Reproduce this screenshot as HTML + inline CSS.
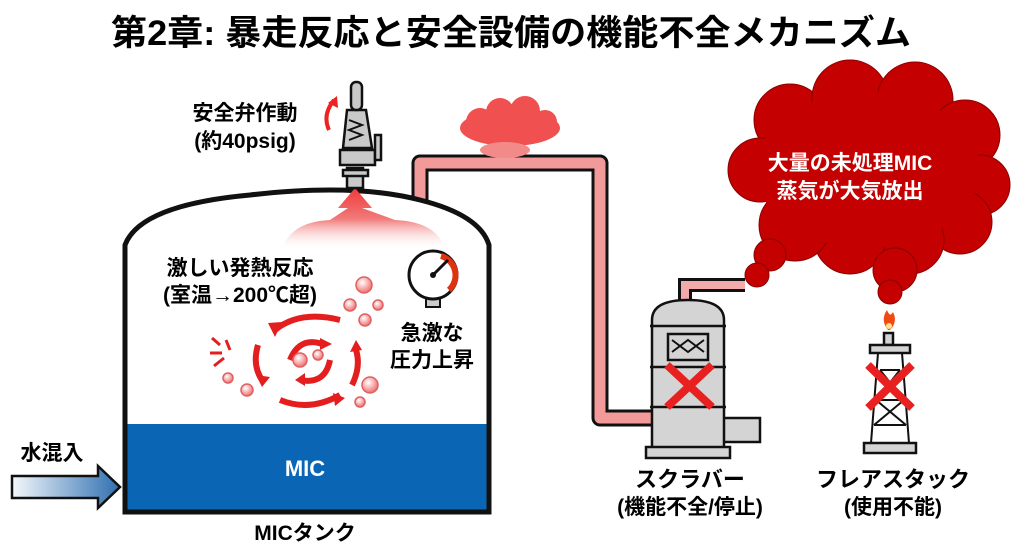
<!DOCTYPE html>
<html><head><meta charset="utf-8"><style>
html,body{margin:0;padding:0;background:#fff;}
svg{display:block;}
text{font-family:"Liberation Sans","Noto Sans CJK JP",sans-serif;font-weight:bold;}
</style></head><body>
<svg width="1024" height="559" viewBox="0 0 1024 559" xmlns="http://www.w3.org/2000/svg">
<defs>
<linearGradient id="wa" x1="0" x2="1"><stop offset="0" stop-color="#f4f8fc"/><stop offset="1" stop-color="#2f6fb0"/></linearGradient>
<linearGradient id="plume" x1="0" y1="0" x2="0" y2="1"><stop offset="0" stop-color="#ee3a3a"/><stop offset="0.5" stop-color="#f27a7a"/><stop offset="1" stop-color="#fff" stop-opacity="0"/></linearGradient>
<radialGradient id="bub" cx="0.4" cy="0.35" r="0.6"><stop offset="0" stop-color="#fff"/><stop offset="1" stop-color="#f07a7a"/></radialGradient>
</defs>
<rect width="1024" height="559" fill="#fff"/>
<text x="511" y="45" font-size="35" text-anchor="middle" textLength="800" lengthAdjust="spacingAndGlyphs">第2章: 暴走反応と安全設備の機能不全メカニズム</text>

<!-- pipe from tank -->
<path d="M420 205 V163 H600 V418 H655" fill="none" stroke="#111" stroke-width="17" stroke-linejoin="round"/>
<path d="M420 205 V163 H600 V418 H655" fill="none" stroke="#f29a9a" stroke-width="11" stroke-linejoin="round"/>
<!-- small cloud -->
<g fill="#f05050">
<ellipse cx="510" cy="128" rx="50" ry="18"/><circle cx="480" cy="122" r="14"/><circle cx="500" cy="112" r="14"/><circle cx="525" cy="111" r="15"/><circle cx="545" cy="122" r="12"/>
<ellipse cx="505" cy="150" rx="25" ry="8" fill="#f28a8a"/>
</g>

<!-- tank -->
<path d="M125 512 V245 Q140 205 250 195 Q355 183 420 200 Q480 215 489 245 V512 Z" fill="#fff" stroke="#111" stroke-width="5"/>
<rect x="127.5" y="424" width="359" height="85.5" fill="#0a66b5"/>
<path d="M125 245 V512 H489 V245" fill="none" stroke="#111" stroke-width="5"/>
<text x="305" y="476" font-size="22" fill="#fff" text-anchor="middle">MIC</text>
<text x="305" y="540" font-size="21" text-anchor="middle">MICタンク</text>

<!-- plume -->
<path d="M355 188 L338 208 L348 208 L330 220 Q290 222 282 250 L445 250 Q438 222 395 220 L362 208 L372 208 Z" fill="url(#plume)"/>

<!-- valve -->
<g stroke="#111" stroke-width="2.5" fill="#c9c9c9">
<rect x="347" y="168" width="16" height="20"/>
<rect x="343" y="170" width="25" height="6"/>
<path d="M340 150 H375 V165 H340 Z"/>
<path d="M347 110 H366 L372 148 H343 Z"/>
<rect x="351" y="82" width="11" height="28" rx="5"/>
<rect x="375" y="135" width="6" height="25"/>
</g>
<path d="M349 120 L362 125 L349 130 L362 135 L349 140" fill="none" stroke="#111" stroke-width="2"/>
<path d="M329 130 Q322 115 334 100" fill="none" stroke="#e22" stroke-width="4"/>
<path d="M328 103 L337 96 L338 108 Z" fill="#e22"/>
<text x="245" y="120" font-size="21" text-anchor="middle">安全弁作動</text>
<text x="245" y="148" font-size="21" text-anchor="middle">(約40psig)</text>

<text x="240" y="275" font-size="21" text-anchor="middle">激しい発熱反応</text>
<text x="240" y="302" font-size="21" text-anchor="middle">(室温→200℃超)</text>

<!-- gauge -->
<rect x="426" y="298" width="14" height="9" fill="#ccc" stroke="#111" stroke-width="2"/>
<circle cx="433" cy="275" r="24" fill="#fff" stroke="#111" stroke-width="3"/>
<path d="M441 256 A20 20 0 0 1 449 290" fill="none" stroke="#d31" stroke-width="6"/>
<path d="M433 275 L448 260" stroke="#111" stroke-width="3"/>
<circle cx="433" cy="275" r="3" fill="#111"/>
<text x="432" y="340" font-size="21" text-anchor="middle">急激な</text>
<text x="432" y="367" font-size="21" text-anchor="middle">圧力上昇</text>

<!-- swirl -->
<g fill="none" stroke="#e41e1e" stroke-width="6">
<path d="M275 330 Q300 310 340 320"/>
<path d="M340 395 Q310 412 280 400"/>
<path d="M258 345 Q252 365 262 380"/>
<path d="M352 385 Q362 365 355 347"/>
<path d="M290 360 Q300 335 325 345"/>
<path d="M330 360 Q325 385 300 380"/>
</g>
<g fill="#e41e1e">
<path d="M268 323 L282 322 L275 337 Z"/><path d="M345 398 L335 406 L333 393 Z"/>
<path d="M256 375 L270 377 L262 387 Z"/><path d="M350 352 L362 350 L356 340 Z"/>
<path d="M320 338 L332 344 L320 350 Z"/><path d="M305 373 L295 380 L305 386 Z"/>
</g>
<path d="M212 338 L220 345 M210 353 L222 353 M214 366 L224 358 M226 340 L230 350" stroke="#e41e1e" stroke-width="3"/>
<g fill="url(#bub)" stroke="#e06060" stroke-width="1.5">
<circle cx="364" cy="285" r="8"/><circle cx="350" cy="305" r="6"/><circle cx="378" cy="305" r="5"/><circle cx="365" cy="320" r="6"/>
<circle cx="300" cy="360" r="7"/><circle cx="318" cy="355" r="5"/><circle cx="370" cy="385" r="8"/><circle cx="360" cy="402" r="5"/>
<circle cx="228" cy="378" r="5"/><circle cx="247" cy="390" r="6"/>
</g>

<!-- water arrow -->
<text x="52" y="460" font-size="21" text-anchor="middle">水混入</text>
<path d="M12 476 H98 V466 L120 487 L98 508 V498 H12 Z" fill="url(#wa)" stroke="#111" stroke-width="2.5"/>

<!-- big cloud -->
<g fill="#c40000" stroke="#8a0000" stroke-width="1">
<circle cx="790" cy="120" r="36"/><circle cx="850" cy="98" r="38"/><circle cx="915" cy="100" r="38"/><circle cx="965" cy="135" r="35"/><circle cx="980" cy="185" r="30"/>
<circle cx="960" cy="222" r="32"/><circle cx="910" cy="240" r="34"/><circle cx="850" cy="238" r="36"/><circle cx="795" cy="225" r="36"/>
<circle cx="760" cy="170" r="32"/><circle cx="770" cy="255" r="16"/><circle cx="757" cy="275" r="12"/>
<circle cx="895" cy="270" r="22"/><circle cx="890" cy="292" r="12"/>
<ellipse cx="868" cy="170" rx="112" ry="78" stroke="none"/>
</g>
<text x="850" y="170" font-size="21" fill="#fff" text-anchor="middle">大量の未処理MIC</text>
<text x="850" y="198" font-size="21" fill="#fff" text-anchor="middle">蒸気が大気放出</text>

<!-- scrubber -->
<path d="M685 305 V285 H745" fill="none" stroke="#111" stroke-width="14"/>
<path d="M685 305 V285 H745" fill="none" stroke="#f2aaaa" stroke-width="8"/>
<g stroke="#111" stroke-width="2.5" fill="#d4d4d4">
<rect x="722" y="418" width="38" height="24"/>
<path d="M652 455 V320 Q652 300 688 300 Q724 300 724 320 V455 Z"/>
<rect x="646" y="447" width="84" height="11"/>
<rect x="668" y="334" width="40" height="26"/>
</g>
<path d="M650 326 H726 M650 367 H726 M650 407 H726" stroke="#111" stroke-width="2.5"/>
<path d="M672 340 L688 352 L704 340 M672 352 L688 340 L704 352" fill="none" stroke="#111" stroke-width="2"/>
<path d="M667 365 L712 407 M712 365 L667 407" stroke="#e82020" stroke-width="8"/>

<!-- flare -->
<path d="M888 330 Q880 320 887 310 Q890 318 893 312 Q898 322 890 330 Z" fill="#f04a10"/>
<circle cx="889" cy="326" r="3" fill="#ffe28a"/>
<g stroke="#111" stroke-width="2.5" fill="#d4d4d4">
<rect x="884" y="333" width="9" height="12"/>
<rect x="870" y="345" width="40" height="8"/>
<rect x="864" y="443" width="52" height="10"/>
</g>
<path d="M878 353 L871 443 M902 353 L909 443 M880 370 H900 M876 400 H904 M874 425 H906 M880 370 L904 400 M900 370 L876 400 M876 400 L906 425 M904 400 L874 425" stroke="#111" stroke-width="2" fill="none"/>
<path d="M868 365 L912 408 M912 365 L868 408" stroke="#e82020" stroke-width="8"/>

<text x="690" y="487" font-size="22" text-anchor="middle">スクラバー</text>
<text x="690" y="514" font-size="21" text-anchor="middle">(機能不全/停止)</text>
<text x="893" y="487" font-size="22" text-anchor="middle">フレアスタック</text>
<text x="893" y="514" font-size="21" text-anchor="middle">(使用不能)</text>
</svg>
</body></html>
